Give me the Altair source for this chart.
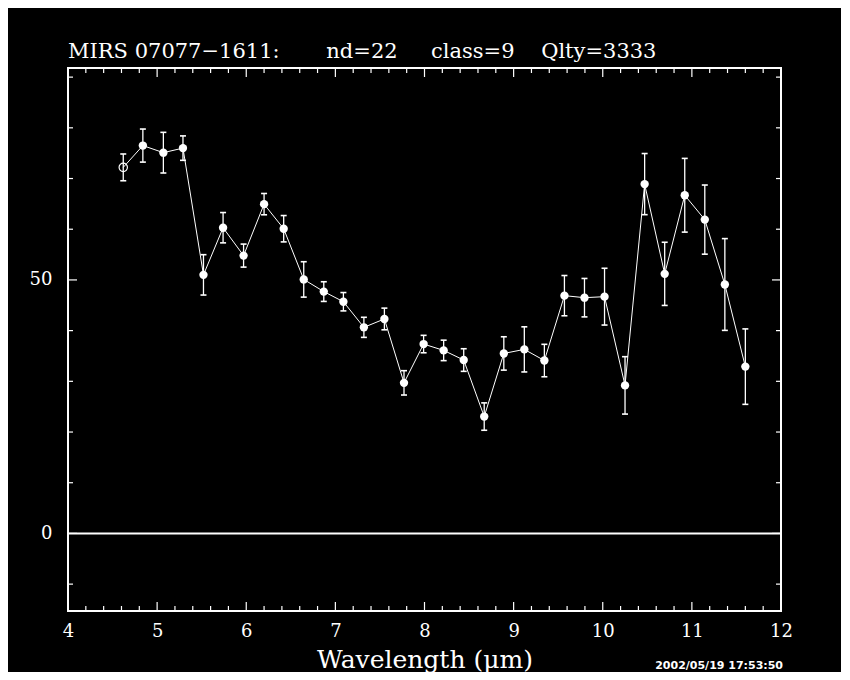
import altair as alt
import pandas as pd

# ---- data ----
wavelength = [4.62, 4.84, 5.07, 5.29, 5.52, 5.74, 5.97, 6.20, 6.42, 6.645, 6.87, 7.09,
              7.32, 7.55, 7.77, 7.99, 8.215, 8.44, 8.67, 8.89, 9.12, 9.345, 9.57, 9.795,
              10.02, 10.25, 10.47, 10.695, 10.92, 11.145, 11.37, 11.60]
flux = [72.2, 76.5, 75.1, 76.0, 51.0, 60.3, 54.8, 64.95, 60.1, 50.1, 47.7, 45.7,
        40.65, 42.3, 29.7, 37.35, 36.1, 34.2, 23.05, 35.5, 36.3, 34.1, 46.9, 46.5,
        46.7, 29.2, 68.9, 51.2, 66.7, 61.9, 49.1, 32.9]
flux_err = [2.64, 3.26, 4.01, 2.41, 3.98, 2.99, 2.27, 2.10, 2.60, 3.49, 1.94, 1.81,
            1.98, 2.14, 2.40, 1.72, 2.02, 2.23, 2.70, 3.29, 4.45, 3.20, 3.97, 3.79,
            5.60, 5.66, 6.03, 6.23, 7.27, 6.82, 9.05, 7.44]
marker = ["open"] + ["filled"] * 31

x_major_ticks = [4, 5, 6, 7, 8, 9, 10, 11, 12]
x_minor_ticks = [round(4 + 0.2 * i, 1) for i in range(41) if i % 5 != 0]
y_major_ticks = [0, 50]
y_minor_ticks = [-10, 10, 20, 30, 40, 60, 70, 80, 90]

title_text = ("MIRS 07077\u22121611:" + "\u00a0" * 7 + "nd=22" + "\u00a0" * 5 +
              "class=9" + "\u00a0" * 4 + "Qlty=3333")
x_title = "Wavelength (\u03bcm)"
stamp = ["2002/05/19 17:53:50"]

W, H = 713, 543
SERIF = "DejaVu Serif"

df = pd.DataFrame({"wavelength": wavelength, "flux": flux, "err": flux_err, "marker": marker})
df["lo"] = df["flux"] - df["err"]
df["hi"] = df["flux"] + df["err"]

xs = alt.Scale(domain=[4, 12], nice=False, zero=False)
ys = alt.Scale(domain=[-15.3, 91.8], nice=False, zero=False)

x_axis = alt.Axis(values=x_major_ticks, format="d", title=x_title, ticks=False, tickSize=0,
                  domain=False, grid=False, labelPadding=11, titlePadding=7,
                  labelFlush=False, labelOverlap=False,
                  labelFont=SERIF, labelFontSize=18, labelColor="white",
                  titleFont=SERIF, titleFontSize=25, titleColor="white", titleFontWeight="normal")
y_axis = alt.Axis(values=y_major_ticks, format="d", title=None, ticks=False, tickSize=0,
                  domain=False, grid=False, labelPadding=16, labelFlush=False,
                  labelFont=SERIF, labelFontSize=18, labelColor="white")


def XE(field):
    return alt.X(field, scale=xs, axis=x_axis, title=x_title)


def YE(field):
    return alt.Y(field, scale=ys, axis=y_axis, title=None)


base = alt.Chart(df)

errbars = base.mark_rule(color="white", strokeWidth=1.3).encode(
    x=XE("wavelength:Q"), y=YE("lo:Q"), y2="hi:Q")
cap_lo = base.mark_tick(color="white", orient="horizontal", size=6, thickness=1.6, opacity=1).encode(
    x=XE("wavelength:Q"), y=YE("lo:Q"))
cap_hi = base.mark_tick(color="white", orient="horizontal", size=6, thickness=1.6, opacity=1).encode(
    x=XE("wavelength:Q"), y=YE("hi:Q"))
line = base.mark_line(color="white", strokeWidth=1).encode(x=XE("wavelength:Q"), y=YE("flux:Q"))
pts_filled = base.transform_filter(alt.datum.marker == "filled").mark_point(
    filled=True, color="white", size=70, opacity=1).encode(x=XE("wavelength:Q"), y=YE("flux:Q"))
pts_open = base.transform_filter(alt.datum.marker == "open").mark_point(
    filled=False, color="white", size=70, strokeWidth=1.2, opacity=1).encode(
    x=XE("wavelength:Q"), y=YE("flux:Q"))

zero_line = alt.Chart(pd.DataFrame({"v": [0]})).mark_rule(color="white", strokeWidth=2).encode(
    y=YE("v:Q"))


def xticks(vals, length):
    d = pd.DataFrame({"t": vals})
    bot = alt.Chart(d).mark_rule(color="white", strokeWidth=1.2).encode(
        x=XE("t:Q"), y=alt.value(H), y2=alt.value(H - length))
    top = alt.Chart(d).mark_rule(color="white", strokeWidth=1.2).encode(
        x=XE("t:Q"), y=alt.value(0), y2=alt.value(length))
    return [bot, top]


def yticks(vals, length):
    d = pd.DataFrame({"t": vals})
    left = alt.Chart(d).mark_rule(color="white", strokeWidth=1.2).encode(
        y=YE("t:Q"), x=alt.value(0), x2=alt.value(length))
    right = alt.Chart(d).mark_rule(color="white", strokeWidth=1.2).encode(
        y=YE("t:Q"), x=alt.value(W), x2=alt.value(W - length))
    return [left, right]


tick_layers = xticks(x_major_ticks, 9) + xticks(x_minor_ticks, 5) + \
    yticks(y_major_ticks, 9) + yticks(y_minor_ticks, 5)

stamp_layer = alt.Chart(pd.DataFrame({"s": stamp})).mark_text(
    color="white", font="DejaVu Sans", fontWeight="bold", fontSize=11,
    align="right", baseline="top").encode(
    text="s:N", x=alt.value(W + 2), y=alt.value(H + 49))

chart = alt.layer(
    errbars, cap_lo, cap_hi, zero_line, line, pts_filled, pts_open, *tick_layers, stamp_layer
).properties(
    width=W, height=H,
    title=alt.TitleParams(title_text, anchor="start", frame="group", font=SERIF,
                          fontSize=21, fontWeight="normal", color="white",
                          baseline="alphabetic", offset=-12),
    padding={"left": 60, "top": 60, "right": 60, "bottom": 61},
    autosize=alt.AutoSizeParams(type="none"),
).configure(background="black").configure_view(
    stroke="white", strokeWidth=2, fill="black")

chart.save("out.html", embed_options={"renderer": "svg", "actions": False})
